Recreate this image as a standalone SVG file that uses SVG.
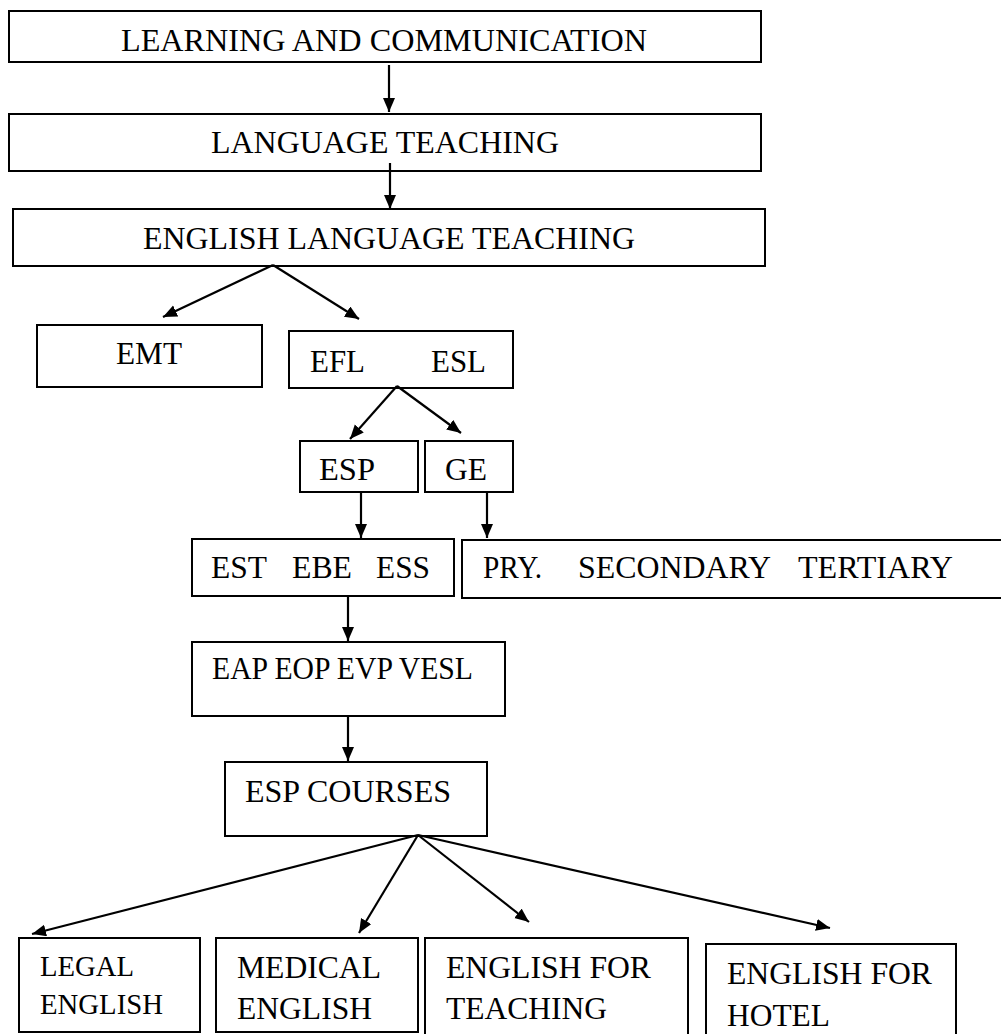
<svg xmlns="http://www.w3.org/2000/svg" width="1001" height="1034" viewBox="0 0 1001 1034">
<style>
.box{fill:#fff;stroke:#000;stroke-width:2}
.c{fill:none;stroke:#000;stroke-width:2.2;marker-end:url(#ah)}
text{font-family:"Liberation Serif","Times New Roman","DejaVu Serif",serif;font-size:31px;fill:#000}
</style>
<defs>
<marker id="ah" markerUnits="userSpaceOnUse" markerWidth="16" markerHeight="14" refX="14" refY="6" orient="auto">
<path d="M0,0 L14,6 L0,12 Z" fill="#000"/>
</marker>
</defs>
<rect width="1001" height="1034" fill="#fff"/>
<g id="n1"><rect class="box" x="9" y="11" width="752" height="51"/><text x="121" y="51" textLength="526" lengthAdjust="spacingAndGlyphs">LEARNING AND COMMUNICATION</text></g>
<g id="n2"><rect class="box" x="9" y="114" width="752" height="57"/><text x="211" y="153" textLength="348" lengthAdjust="spacingAndGlyphs">LANGUAGE TEACHING</text></g>
<g id="n3"><rect class="box" x="13" y="209" width="752" height="57"/><text x="143" y="249" textLength="492" lengthAdjust="spacingAndGlyphs">ENGLISH LANGUAGE TEACHING</text></g>
<g id="n4"><rect class="box" x="37" y="325" width="225" height="62"/><text x="116" y="364" textLength="66" lengthAdjust="spacingAndGlyphs">EMT</text></g>
<g id="n5"><rect class="box" x="289" y="331" width="224" height="57"/><text x="310" y="372" textLength="55" lengthAdjust="spacingAndGlyphs">EFL</text><text x="431" y="372" textLength="55" lengthAdjust="spacingAndGlyphs">ESL</text></g>
<g id="n6"><rect class="box" x="300" y="441" width="118" height="51"/><text x="319" y="480" textLength="56" lengthAdjust="spacingAndGlyphs">ESP</text></g>
<g id="n7"><rect class="box" x="425" y="441" width="88" height="51"/><text x="445" y="480" textLength="42" lengthAdjust="spacingAndGlyphs">GE</text></g>
<g id="n8"><rect class="box" x="192" y="539" width="262" height="57"/><text x="211" y="578" textLength="56" lengthAdjust="spacingAndGlyphs">EST</text><text x="292" y="578" textLength="60" lengthAdjust="spacingAndGlyphs">EBE</text><text x="376" y="578" textLength="54" lengthAdjust="spacingAndGlyphs">ESS</text></g>
<g id="n9"><rect class="box" x="462" y="540" width="550" height="58"/><text x="483" y="578" textLength="59" lengthAdjust="spacingAndGlyphs">PRY.</text><text x="578" y="578" textLength="193" lengthAdjust="spacingAndGlyphs">SECONDARY</text><text x="798" y="578" textLength="155" lengthAdjust="spacingAndGlyphs">TERTIARY</text></g>
<g id="n10"><rect class="box" x="192" y="642" width="313" height="74"/><text x="212" y="679" textLength="261" lengthAdjust="spacingAndGlyphs">EAP EOP EVP VESL</text></g>
<g id="n11"><rect class="box" x="225" y="762" width="262" height="74"/><text x="245" y="802" textLength="206" lengthAdjust="spacingAndGlyphs">ESP COURSES</text></g>
<g id="n12"><rect class="box" x="19" y="938" width="181" height="94"/><text x="40" y="976" style="font-size:29px" textLength="94" lengthAdjust="spacingAndGlyphs">LEGAL</text><text x="40" y="1014" style="font-size:29px" textLength="123" lengthAdjust="spacingAndGlyphs">ENGLISH</text></g>
<g id="n13"><rect class="box" x="216" y="938" width="202" height="94"/><text x="237" y="978" textLength="144" lengthAdjust="spacingAndGlyphs">MEDICAL</text><text x="237" y="1019" textLength="135" lengthAdjust="spacingAndGlyphs">ENGLISH</text></g>
<g id="n14"><rect class="box" x="425" y="938" width="263" height="110"/><text x="446" y="978" textLength="205" lengthAdjust="spacingAndGlyphs">ENGLISH FOR</text><text x="446" y="1019" textLength="161" lengthAdjust="spacingAndGlyphs">TEACHING</text></g>
<g id="n15"><rect class="box" x="706" y="944" width="250" height="110"/><text x="727" y="984" textLength="205" lengthAdjust="spacingAndGlyphs">ENGLISH FOR</text><text x="727" y="1026" textLength="103" lengthAdjust="spacingAndGlyphs">HOTEL</text></g>
<g id="connectors">
<line class="c" x1="389" y1="65" x2="389" y2="112"/>
<line class="c" x1="390" y1="163" x2="390" y2="209"/>
<line class="c" x1="273" y1="265" x2="163" y2="317"/>
<line class="c" x1="273" y1="265" x2="359" y2="319"/>
<line class="c" x1="397" y1="386" x2="350" y2="439"/>
<line class="c" x1="397" y1="386" x2="461" y2="433"/>
<line class="c" x1="361" y1="492" x2="361" y2="538"/>
<line class="c" x1="487" y1="492" x2="487" y2="538"/>
<line class="c" x1="348" y1="595" x2="348" y2="641"/>
<line class="c" x1="348" y1="715" x2="348" y2="761"/>
<line class="c" x1="418" y1="835" x2="32" y2="934"/>
<line class="c" x1="418" y1="835" x2="359" y2="933"/>
<line class="c" x1="418" y1="835" x2="529" y2="922"/>
<line class="c" x1="418" y1="835" x2="830" y2="928"/>
</g>
</svg>
